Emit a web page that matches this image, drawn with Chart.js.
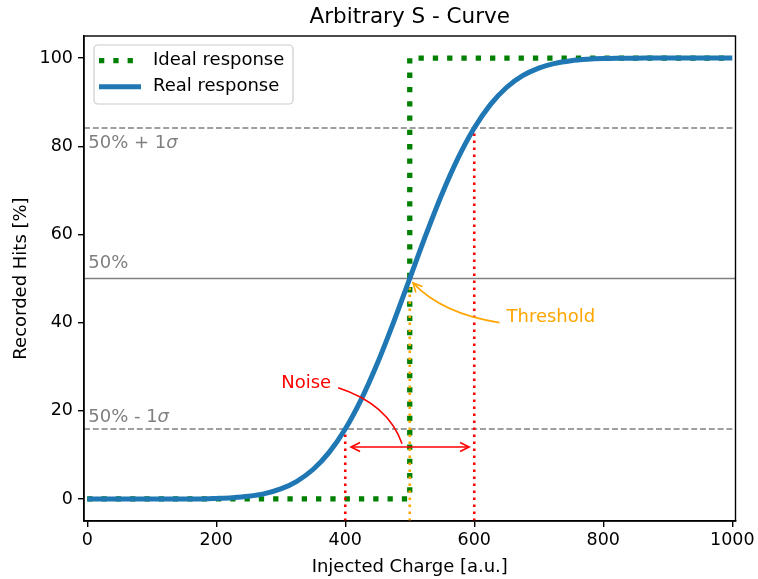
<!DOCTYPE html>
<html>
<head>
<meta charset="utf-8">
<script src="https://cdn.jsdelivr.net/npm/chart.js@4.4.0/dist/chart.umd.min.js"></script>
<style>
  html, body { margin: 0; padding: 0; background: #fff; }
</style>
</head>
<body>
<canvas id="sCurve" width="758" height="579"></canvas>
<script>
// values
const charge = [0, 25, 50, 75, 100, 125, 150, 175, 200, 225, 250, 275, 300, 325, 350, 375, 400,
  425, 450, 475, 500, 525, 550, 575, 600, 625, 650, 675, 700, 725, 750, 775, 800, 825, 850, 875,
  900, 925, 950, 975, 1000];
const realHits = [0, 0, 0, 0, 0, 0, 0, 0.01, 0.13, 0.3, 0.62, 1.22, 2.28, 4.01, 6.68, 10.56, 15.87,
  22.66, 30.85, 40.13, 50, 59.87, 69.15, 77.34, 84.13, 89.44, 93.32, 95.99, 97.72, 98.78, 99.38,
  99.7, 99.87, 99.94, 99.98, 99.99, 100, 100, 100, 100, 100];
const idealCharge = [0, 500, 500, 1000];
const idealHits = [0, 0, 100, 100];
const levels = [84.13, 50, 15.87];
const levelNames = ["50% + 1", "50%", "50% - 1"];
const noiseEdges = [400, 600];
const threshold = 500;
const xTicks = [0, 200, 400, 600, 800, 1000];
const yTicks = [0, 20, 40, 60, 80, 100];

const FONT = "DejaVu Sans";
Chart.defaults.font.family = FONT;
Chart.defaults.font.size = 17.5;
Chart.defaults.color = "#000";

const X_MIN = -5, X_MAX = 1005, Y_MIN = -5, Y_MAX = 105;

const pts = (xs, ys) => xs.map((x, i) => ({ x: x, y: ys[i] }));

const datasets = [];
datasets.push({
  data: pts(charge, realHits),
  borderColor: "#1f77b4", borderWidth: 5, pointRadius: 0,
  cubicInterpolationMode: "monotone", order: 1
});
datasets.push({
  data: pts(idealCharge, idealHits),
  borderColor: "#008000", borderWidth: 5.3, borderDash: [5.3, 9],
  borderCapStyle: "butt", pointRadius: 0, order: 4
});
levels.forEach((lv, i) => {
  datasets.push({
    data: [{ x: X_MIN, y: lv }, { x: X_MAX, y: lv }],
    borderColor: "#808080", borderWidth: i === 1 ? 1.7 : 1.6,
    borderDash: i === 1 ? [] : [6, 2.8], pointRadius: 0, order: 5
  });
});
datasets.push({
  data: [{ x: threshold, y: Y_MIN }, { x: threshold, y: 50 }],
  borderColor: "#ffa500", borderWidth: 2.6, borderDash: [2.6, 4.4],
  pointRadius: 0, order: 3
});
datasets.push({
  data: [{ x: noiseEdges[0], y: Y_MIN }, { x: noiseEdges[0], y: levels[2] }],
  borderColor: "#ff0000", borderWidth: 2.6, borderDash: [2.6, 4.4],
  pointRadius: 0, order: 3
});
datasets.push({
  data: [{ x: noiseEdges[1], y: Y_MIN }, { x: noiseEdges[1], y: levels[0] }],
  borderColor: "#ff0000", borderWidth: 2.6, borderDash: [2.6, 4.4],
  pointRadius: 0, order: 3
});

function arrowHead(ctx, tipX, tipY, fromX, fromY, len, half) {
  const a = Math.atan2(tipY - fromY, tipX - fromX);
  ctx.beginPath();
  ctx.moveTo(tipX - len * Math.cos(a) + half * Math.sin(a), tipY - len * Math.sin(a) - half * Math.cos(a));
  ctx.lineTo(tipX, tipY);
  ctx.lineTo(tipX - len * Math.cos(a) - half * Math.sin(a), tipY - len * Math.sin(a) + half * Math.cos(a));
  ctx.stroke();
}

const extras = {
  id: "extras",
  afterDatasetsDraw(chart) {
    const ctx = chart.ctx;
    const xs = chart.scales.x, ys = chart.scales.y;
    const px = v => xs.getPixelForValue(v);
    const py = v => ys.getPixelForValue(v);
    const area = chart.chartArea;

    ctx.save();
    // level labels
    ctx.fillStyle = "#808080";
    ctx.textBaseline = "middle";
    ctx.textAlign = "left";
    const labelY = [80.7, 53.4, 18.6];
    levelNames.forEach((t, i) => {
      ctx.font = "18px '" + FONT + "'";
      const x0 = px(0) + 1;
      ctx.fillText(t, x0, py(labelY[i]));
      if (i !== 1) {
        const w = ctx.measureText(t).width;
        ctx.font = "italic 18px '" + FONT + "'";
        ctx.fillText("σ", x0 + w, py(labelY[i]));
      }
    });

    // noise annotation
    ctx.strokeStyle = "#ff0000";
    ctx.fillStyle = "#ff0000";
    ctx.lineWidth = 1.6;
    const ay = py(11.8);
    const ax0 = px(409), ax1 = px(592);
    ctx.beginPath();
    ctx.moveTo(ax0, ay); ctx.lineTo(ax1, ay); ctx.stroke();
    arrowHead(ctx, ax0, ay, ax1, ay, 9, 4.5);
    arrowHead(ctx, ax1, ay, ax0, ay, 9, 4.5);
    ctx.beginPath();
    ctx.moveTo(px(389), py(25.2));
    ctx.quadraticCurveTo(px(466.7), py(21.5), px(488), py(12.5));
    ctx.stroke();
    ctx.font = "18px '" + FONT + "'";
    ctx.textAlign = "left";
    ctx.fillText("Noise", px(300.8), py(26.3));

    // threshold annotation
    ctx.strokeStyle = "#ffa500";
    ctx.fillStyle = "#ffa500";
    const tx0 = px(639), ty0 = py(40), tcx = px(550), tcy = py(42), tx1 = px(505), ty1 = py(49);
    ctx.beginPath();
    ctx.moveTo(tx0, ty0);
    ctx.quadraticCurveTo(tcx, tcy, tx1, ty1);
    ctx.stroke();
    arrowHead(ctx, tx1, ty1, tcx, tcy, 9, 4.5);
    ctx.fillText("Threshold", px(650), py(41.3));

    // frame
    ctx.strokeStyle = "#000";
    ctx.lineWidth = 1.4;
    ctx.strokeRect(area.left, area.top, area.right - area.left, area.bottom - area.top);

    // legend
    const lx = 94, ly = 45, lw = 199, lh = 59, r = 4;
    ctx.fillStyle = "rgba(255,255,255,0.8)";
    ctx.strokeStyle = "#cccccc";
    ctx.lineWidth = 1.2;
    ctx.beginPath();
    ctx.roundRect(lx, ly, lw, lh, r);
    ctx.fill();
    ctx.stroke();
    ctx.lineCap = "butt";
    ctx.strokeStyle = "#008000";
    ctx.lineWidth = 5.3;
    ctx.setLineDash([5.3, 9]);
    ctx.beginPath(); ctx.moveTo(99, 60.7); ctx.lineTo(141, 60.7); ctx.stroke();
    ctx.setLineDash([]);
    ctx.strokeStyle = "#1f77b4";
    ctx.lineWidth = 5;
    ctx.beginPath(); ctx.moveTo(99, 86.7); ctx.lineTo(141, 86.7); ctx.stroke();
    ctx.fillStyle = "#000";
    ctx.font = "18px '" + FONT + "'";
    ctx.textAlign = "left";
    ctx.fillText("Ideal response", 153, 60.7);
    ctx.fillText("Real response", 153, 86.7);

    // titles
    ctx.textAlign = "center";
    ctx.font = "21.5px '" + FONT + "'";
    ctx.fillText("Arbitrary S - Curve", (area.left + area.right) / 2, 17.5);
    ctx.font = "18px '" + FONT + "'";
    ctx.fillText("Injected Charge [a.u.]", (area.left + area.right) / 2, 567);
    ctx.translate(21, (area.top + area.bottom) / 2);
    ctx.rotate(-Math.PI / 2);
    ctx.fillText("Recorded Hits [%]", 0, 0);
    ctx.restore();
  }
};

new Chart(document.getElementById("sCurve"), {
  type: "line",
  data: { datasets: datasets },
  options: {
    responsive: false,
    animation: false,
    layout: { padding: { top: 36, right: 22.5, left: 0, bottom: 0 } },
    scales: {
      x: {
        type: "linear", min: X_MIN, max: X_MAX,
        afterBuildTicks: s => { s.ticks = xTicks.map(v => ({ value: v })); },
        afterFit: s => { s.height = 58; },
        grid: { drawOnChartArea: false, drawTicks: true, tickLength: 6, color: "#000", lineWidth: 1.4 },
        border: { display: true, color: "#000", width: 1.4 },
        ticks: { padding: 3, maxRotation: 0, color: "#000", font: { size: 17.5 }, callback: v => String(v) }
      },
      y: {
        type: "linear", min: Y_MIN, max: Y_MAX,
        afterBuildTicks: s => { s.ticks = yTicks.map(v => ({ value: v })); },
        afterFit: s => { s.width = 84; },
        grid: { drawOnChartArea: false, drawTicks: true, tickLength: 6, color: "#000", lineWidth: 1.4 },
        border: { display: true, color: "#000", width: 1.4 },
        ticks: { padding: 5, color: "#000", font: { size: 17.5 }, callback: v => String(v) }
      }
    },
    plugins: {
      legend: { display: false },
      title: { display: false },
      tooltip: { enabled: false }
    }
  },
  plugins: [extras]
});
</script>
</body>
</html>
